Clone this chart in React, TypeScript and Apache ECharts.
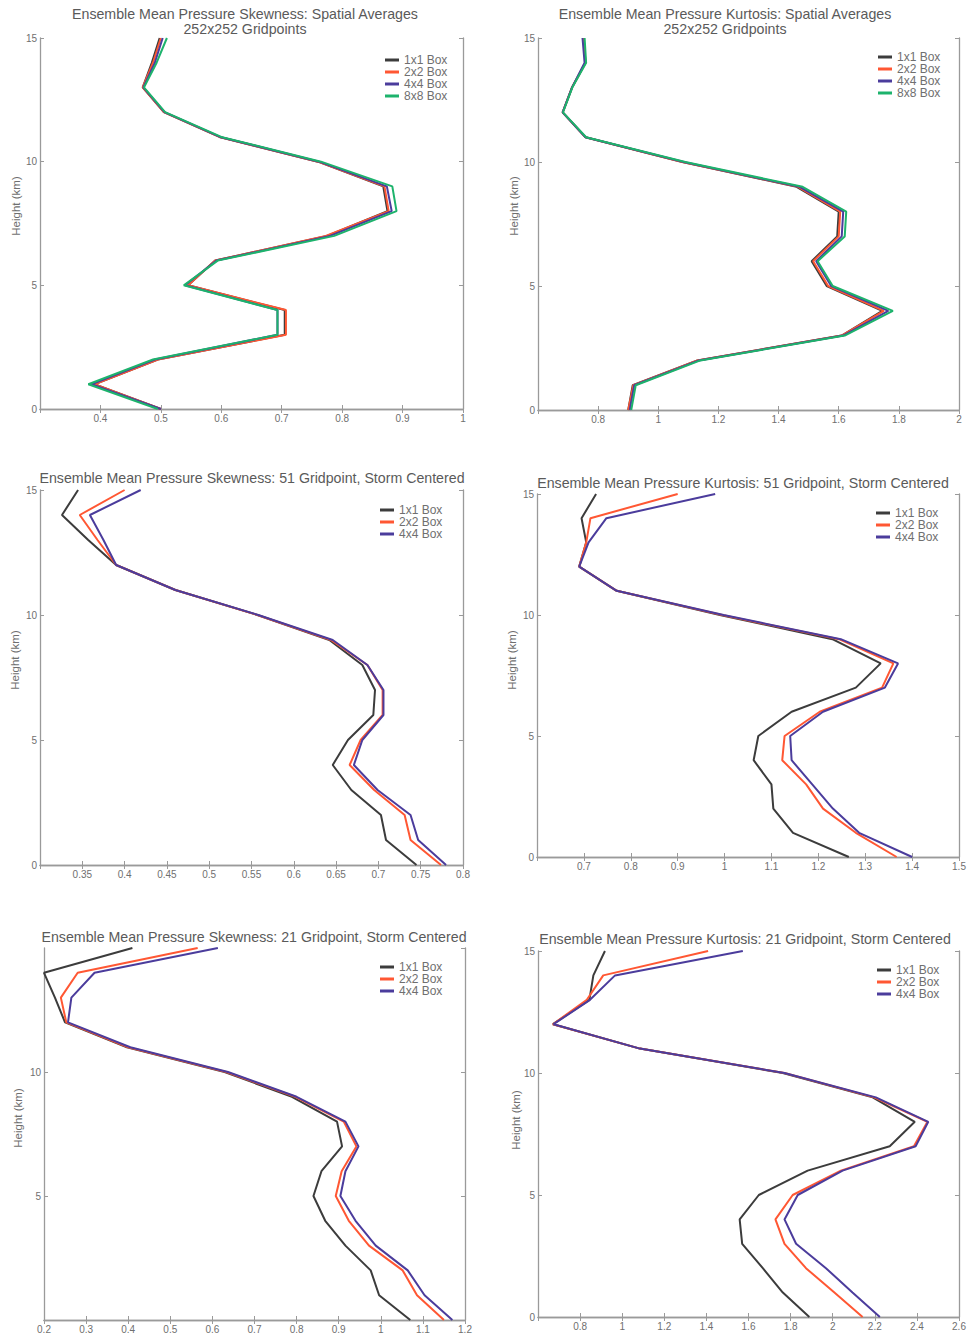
import React, { useEffect, useRef } from "react";
import * as echarts from "echarts";

const heights = [0, 1, 2, 3, 4, 5, 6, 7, 8, 9, 10, 11, 12, 13, 14, 15];
const boxNames4 = ["1x1 Box", "2x2 Box", "4x4 Box", "8x8 Box"];
const boxNames3 = ["1x1 Box", "2x2 Box", "4x4 Box"];

// Panel 1: skewness, spatial averages
const skew252_1 = [0.5, 0.39, 0.495, 0.705, 0.705, 0.545, 0.59, 0.775, 0.875, 0.868, 0.76, 0.597, 0.505, 0.47, 0.485, 0.498];
const skew252_2 = [0.5, 0.39, 0.495, 0.707, 0.707, 0.545, 0.59, 0.773, 0.877, 0.87, 0.76, 0.597, 0.505, 0.47, 0.487, 0.5];
const skew252_4 = [0.5, 0.385, 0.49, 0.693, 0.693, 0.54, 0.592, 0.78, 0.882, 0.874, 0.762, 0.598, 0.506, 0.471, 0.49, 0.503];
const skew252_8 = [0.495, 0.38, 0.487, 0.693, 0.693, 0.538, 0.594, 0.787, 0.89, 0.883, 0.765, 0.6, 0.507, 0.472, 0.493, 0.51];

// Panel 2: kurtosis, spatial averages
const kurt252_1 = [0.9, 0.915, 1.13, 1.61, 1.745, 1.56, 1.51, 1.595, 1.6, 1.46, 1.08, 0.758, 0.682, 0.713, 0.758, 0.752];
const kurt252_2 = [0.9, 0.917, 1.13, 1.61, 1.75, 1.565, 1.515, 1.6, 1.605, 1.465, 1.08, 0.758, 0.682, 0.713, 0.758, 0.752];
const kurt252_4 = [0.905, 0.92, 1.135, 1.615, 1.765, 1.575, 1.525, 1.61, 1.615, 1.47, 1.085, 0.758, 0.682, 0.713, 0.755, 0.748];
const kurt252_8 = [0.91, 0.925, 1.14, 1.62, 1.78, 1.58, 1.53, 1.62, 1.625, 1.48, 1.09, 0.76, 0.683, 0.714, 0.76, 0.755];

// Panel 3: skewness, 51 gridpoint
const skew51_1 = [0.745, 0.709, 0.703, 0.668, 0.646, 0.664, 0.694, 0.696, 0.681, 0.642, 0.557, 0.46, 0.39, 0.357, 0.326, 0.345];
const skew51_2 = [0.774, 0.738, 0.731, 0.695, 0.666, 0.679, 0.705, 0.705, 0.687, 0.644, 0.557, 0.46, 0.39, 0.368, 0.347, 0.4];
const skew51_4 = [0.78, 0.747, 0.738, 0.699, 0.671, 0.681, 0.706, 0.706, 0.687, 0.646, 0.558, 0.46, 0.39, 0.375, 0.359, 0.419];

// Panel 4: kurtosis, 51 gridpoint
const kurt51_1 = [1.265, 1.146, 1.104, 1.1, 1.062, 1.072, 1.143, 1.28, 1.333, 1.23, 0.99, 0.77, 0.69, 0.705, 0.695, 0.726];
const kurt51_2 = [1.367, 1.28, 1.21, 1.174, 1.123, 1.128, 1.203, 1.336, 1.36, 1.244, 0.995, 0.77, 0.69, 0.705, 0.714, 0.9];
const kurt51_4 = [1.4, 1.287, 1.231, 1.187, 1.143, 1.14, 1.21, 1.342, 1.37, 1.248, 0.998, 0.77, 0.69, 0.71, 0.748, 0.98];

// Panel 5: skewness, 21 gridpoint
const skew21_1 = [1.07, 0.996, 0.976, 0.916, 0.868, 0.84, 0.859, 0.908, 0.896, 0.789, 0.629, 0.397, 0.25, 0.226, 0.2, 0.41];
const skew21_2 = [1.15, 1.086, 1.052, 0.972, 0.924, 0.893, 0.907, 0.942, 0.912, 0.797, 0.633, 0.4, 0.253, 0.24, 0.28, 0.565];
const skew21_4 = [1.17, 1.104, 1.064, 0.988, 0.94, 0.904, 0.916, 0.947, 0.916, 0.8, 0.637, 0.405, 0.257, 0.265, 0.32, 0.613];

// Panel 6: kurtosis, 21 gridpoint
const kurt21_1 = [1.889, 1.763, 1.668, 1.57, 1.558, 1.649, 1.881, 2.271, 2.39, 2.19, 1.763, 1.084, 0.671, 0.844, 0.863, 0.918];
const kurt21_2 = [2.142, 2.008, 1.873, 1.771, 1.728, 1.81, 2.039, 2.386, 2.45, 2.197, 1.771, 1.084, 0.671, 0.832, 0.91, 1.408];
const kurt21_4 = [2.224, 2.094, 1.968, 1.826, 1.771, 1.834, 2.047, 2.394, 2.454, 2.205, 1.771, 1.084, 0.674, 0.847, 0.966, 1.573];

const colors = ["#3c3c3c", "#ff5733", "#4b3c9c", "#1db36c"];
const AXIS = "#9a9a9a";
const LABEL = "#6f6f6f";
const FONT = "Liberation Sans";

type Panel = {
  title: string;
  tx: number;
  ty: number;
  grid: { left: number; top: number; width: number; height: number };
  xmin: number;
  xmax: number;
  xint: number;
  showXMin: boolean;
  showYMin: boolean;
  showYMax: boolean;
  yname: { x: number; y: number };
  legend: { left: number; top: number; rowH: number };
  names: string[];
  values: number[][];
};

const panels: Panel[] = [
  {
    title: "Ensemble Mean Pressure Skewness: Spatial Averages\n252x252 Gridpoints",
    tx: 245, ty: 7,
    grid: { left: 40, top: 38, width: 423, height: 371 },
    xmin: 0.3, xmax: 1, xint: 0.1, showXMin: false, showYMin: true, showYMax: true,
    yname: { x: 16, y: 206 },
    legend: { left: 385, top: 54, rowH: 10.5 },
    names: boxNames4,
    values: [skew252_1, skew252_2, skew252_4, skew252_8],
  },
  {
    title: "Ensemble Mean Pressure Kurtosis: Spatial Averages\n252x252 Gridpoints",
    tx: 725, ty: 7,
    grid: { left: 538, top: 38, width: 421, height: 372 },
    xmin: 0.6, xmax: 2, xint: 0.2, showXMin: false, showYMin: true, showYMax: true,
    yname: { x: 514, y: 206 },
    legend: { left: 878, top: 51, rowH: 10.5 },
    names: boxNames4,
    values: [kurt252_1, kurt252_2, kurt252_4, kurt252_8],
  },
  {
    title: "Ensemble Mean Pressure Skewness: 51 Gridpoint, Storm Centered",
    tx: 252, ty: 471,
    grid: { left: 40, top: 490, width: 423, height: 375 },
    xmin: 0.3, xmax: 0.8, xint: 0.05, showXMin: false, showYMin: true, showYMax: true,
    yname: { x: 15, y: 660 },
    legend: { left: 380, top: 504, rowH: 11.5 },
    names: boxNames3,
    values: [skew51_1, skew51_2, skew51_4],
  },
  {
    title: "Ensemble Mean Pressure Kurtosis: 51 Gridpoint, Storm Centered",
    tx: 743, ty: 476,
    grid: { left: 537, top: 494, width: 422, height: 363 },
    xmin: 0.6, xmax: 1.5, xint: 0.1, showXMin: false, showYMin: true, showYMax: true,
    yname: { x: 512, y: 660 },
    legend: { left: 876, top: 507, rowH: 11 },
    names: boxNames3,
    values: [kurt51_1, kurt51_2, kurt51_4],
  },
  {
    title: "Ensemble Mean Pressure Skewness: 21 Gridpoint, Storm Centered",
    tx: 254, ty: 930,
    grid: { left: 44, top: 948, width: 421, height: 372 },
    xmin: 0.2, xmax: 1.2, xint: 0.1, showXMin: true, showYMin: false, showYMax: false,
    yname: { x: 18, y: 1118 },
    legend: { left: 380, top: 961, rowH: 10.5 },
    names: boxNames3,
    values: [skew21_1, skew21_2, skew21_4],
  },
  {
    title: "Ensemble Mean Pressure Kurtosis: 21 Gridpoint, Storm Centered",
    tx: 745, ty: 932,
    grid: { left: 538, top: 951, width: 421, height: 366 },
    xmin: 0.6, xmax: 2.6, xint: 0.2, showXMin: false, showYMin: true, showYMax: true,
    yname: { x: 516, y: 1120 },
    legend: { left: 877, top: 964, rowH: 11.5 },
    names: boxNames3,
    values: [kurt21_1, kurt21_2, kurt21_4],
  },
];

function buildOption() {
  const grid: any[] = [];
  const xAxis: any[] = [];
  const yAxis: any[] = [];
  const series: any[] = [];
  const legend: any[] = [];
  const graphic: any[] = [];

  panels.forEach((p, i) => {
    grid.push({ ...p.grid, containLabel: false });
    const axisLine = { show: true, lineStyle: { color: AXIS, width: 1.3 } };
    const axisTick = { show: true, inside: true, length: 4, lineStyle: { color: AXIS } };
    const xBase = {
      type: "value", gridIndex: i, min: p.xmin, max: p.xmax, interval: p.xint,
      splitLine: { show: false }, axisLine, axisTick,
    };
    xAxis.push({
      ...xBase, position: "bottom",
      axisLabel: { show: true, color: LABEL, fontSize: 10, fontFamily: FONT, margin: 4, showMinLabel: p.showXMin, showMaxLabel: true },
    });
    xAxis.push({ ...xBase, position: "top", axisLabel: { show: false } });
    const yBase = {
      type: "value", gridIndex: i, min: 0, max: 15, interval: 5,
      splitLine: { show: false }, axisLine, axisTick,
    };
    yAxis.push({
      ...yBase, position: "left",
      axisLabel: { show: true, color: LABEL, fontSize: 10, fontFamily: FONT, margin: 3, showMinLabel: p.showYMin, showMaxLabel: p.showYMax },
    });
    yAxis.push({ ...yBase, position: "right", axisLabel: { show: false } });

    p.values.forEach((vals, k) => {
      series.push({
        type: "line", name: p.names[k], xAxisIndex: i * 2, yAxisIndex: i * 2,
        data: heights.map((h, j) => [vals[j], h]),
        symbol: "none", lineStyle: { color: colors[k], width: 2 }, itemStyle: { color: colors[k] },
        silent: true,
      });
    });

    legend.push({
      left: p.legend.left, top: p.legend.top, orient: "vertical", icon: "rect",
      itemWidth: 14, itemHeight: 3, itemGap: 0, padding: 0,
      data: p.names,
      textStyle: { color: LABEL, fontSize: 12, fontFamily: FONT, lineHeight: p.legend.rowH, padding: 0 },
      selectedMode: false,
    });

    graphic.push({
      type: "text", x: p.tx, y: p.ty,
      style: {
        text: p.title, textAlign: "center", fill: "#5a5a5a",
        font: `14.2px ${FONT}`, lineHeight: 14.5,
      },
    });
    graphic.push({
      type: "text", x: p.yname.x, y: p.yname.y, rotation: Math.PI / 2,
      style: {
        text: "Height (km)", textAlign: "center", textVerticalAlign: "middle", fill: LABEL,
        font: `11.5px ${FONT}`,
      },
    });
  });

  return { animation: false, backgroundColor: "#ffffff", grid, xAxis, yAxis, series, legend, graphic };
}

export default function App() {
  const ref = useRef<HTMLDivElement>(null);
  useEffect(() => {
    if (!ref.current) return;
    const chart = echarts.init(ref.current, undefined, { renderer: "svg" });
    chart.setOption(buildOption() as any);
    return () => chart.dispose();
  }, []);
  return <div ref={ref} style={{ position: "absolute", left: 0, top: 0, width: 969, height: 1338, background: "#fff" }} />;
}
